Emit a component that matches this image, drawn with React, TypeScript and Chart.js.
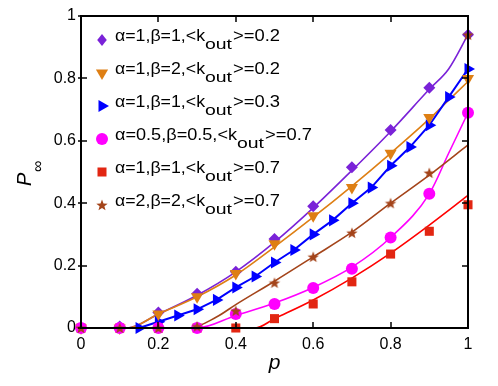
import React, { useEffect, useRef } from "react";
import { Chart, registerables } from "chart.js";

Chart.register(...registerables);

// ---------- data ----------
const pMarkers = [0, 0.1, 0.2, 0.3, 0.4, 0.5, 0.6, 0.7, 0.8, 0.9, 1.0];
const purpleMarkers = [0, 0.005, 0.05, 0.11, 0.18, 0.285, 0.39, 0.515, 0.635, 0.77, 0.94];
const orangeMarkers = [0, 0, 0.045, 0.1, 0.175, 0.27, 0.36, 0.45, 0.56, 0.675, 0.8];
const magentaMarkers = [0, 0, 0, 0, 0.045, 0.077, 0.128, 0.19, 0.29, 0.43, 0.69];
const redMarkers = [0, 0, 0, 0, 0, 0.03, 0.077, 0.148, 0.237, 0.31, 0.395];
const brownMarkers = [0, 0, 0, 0.005, 0.055, 0.145, 0.228, 0.305, 0.4, 0.497, 0.94];

const pBlue = [0.15, 0.2, 0.25, 0.3, 0.35, 0.4, 0.45, 0.5, 0.55, 0.6, 0.65, 0.7, 0.75, 0.8, 0.85, 0.9, 0.95, 1.0];
const blueValues = [0, 0.02, 0.04, 0.06, 0.09, 0.13, 0.165, 0.21, 0.25, 0.3, 0.345, 0.4, 0.45, 0.52, 0.58, 0.65, 0.74, 0.83];

const pPurpleLine = [0, 0.12, 0.2, 0.3, 0.4, 0.5, 0.6, 0.7, 0.8, 0.9, 0.95, 1.0];
const purpleLine = [0, 0, 0.045, 0.105, 0.18, 0.275, 0.385, 0.505, 0.63, 0.765, 0.83, 0.94];
const pOrangeLine = [0, 0.12, 0.2, 0.3, 0.4, 0.5, 0.6, 0.7, 0.8, 0.9, 0.95, 1.0];
const orangeLine = [0, 0, 0.045, 0.1, 0.17, 0.26, 0.355, 0.455, 0.56, 0.67, 0.73, 0.79];
const pMagentaLine = [0, 0.3, 0.4, 0.5, 0.6, 0.7, 0.8, 0.9, 0.95, 1.0];
const magentaLine = [0, 0, 0.04, 0.08, 0.13, 0.195, 0.29, 0.43, 0.56, 0.69];
const pRedLine = [0, 0.45, 0.5, 0.6, 0.7, 0.8, 0.9, 1.0];
const redLine = [0, 0, 0.03, 0.09, 0.16, 0.24, 0.33, 0.425];
const pBrownLine = [0, 0.28, 0.35, 0.4, 0.5, 0.6, 0.7, 0.8, 0.9, 1.0];
const brownLine = [0, 0, 0.035, 0.075, 0.15, 0.228, 0.307, 0.4, 0.49, 0.587];

const tickValues = [0, 0.2, 0.4, 0.6, 0.8, 1];
const xTickLabels = ["0", "0.2", "0.4", "0.6", "0.8", "1"];
const yTickLabels = ["0", "0.2", "0.4", "0.6", "0.8", "1"];

const legendPrefixes = [
  "α=1,β=1,<k",
  "α=1,β=2,<k",
  "α=1,β=1,<k",
  "α=0.5,β=0.5,<k",
  "α=1,β=1,<k",
  "α=2,β=2,<k",
];
const legendSuffixes = [">=0.2", ">=0.2", ">=0.3", ">=0.7", ">=0.7", ">=0.7"];

// ---------- styles ----------
const PURPLE = "#7a22d8";
const ORANGE = "#de7f14";
const BLUE = "#0000ff";
const MAGENTA = "#ff00ff";
const RED = "#ff0000";
const RED_MARK = "#e22612";
const BROWN = "#a4441a";
const FONT = "'Liberation Sans', Arial, Helvetica, sans-serif";

function makeStar(color: string, r: number) {
  const c = document.createElement("canvas");
  const s = Math.ceil(r * 2 + 2);
  c.width = s;
  c.height = s;
  const ctx = c.getContext("2d")!;
  ctx.fillStyle = color;
  ctx.beginPath();
  for (let i = 0; i < 10; i++) {
    const rad = i % 2 === 0 ? r : r * 0.42;
    const a = -Math.PI / 2 + (i * Math.PI) / 5;
    const x = s / 2 + rad * Math.cos(a);
    const y = s / 2 + 0.5 + rad * Math.sin(a);
    if (i === 0) ctx.moveTo(x, y);
    else ctx.lineTo(x, y);
  }
  ctx.closePath();
  ctx.fill();
  return c;
}

function pts(xs: number[], ys: number[]) {
  return xs.map((x, i) => ({ x, y: ys[i] }));
}

function drawMarker(ctx: CanvasRenderingContext2D, kind: string, x: number, y: number, color: string, star?: HTMLCanvasElement) {
  ctx.save();
  ctx.fillStyle = color;
  ctx.beginPath();
  if (kind === "diamond") {
    const r = 6;
    ctx.moveTo(x, y - r);
    ctx.lineTo(x + r * 0.8, y);
    ctx.lineTo(x, y + r);
    ctx.lineTo(x - r * 0.8, y);
    ctx.closePath();
    ctx.fill();
  } else if (kind === "tridown") {
    const r = 7;
    ctx.moveTo(x - r * 0.87, y - r * 0.5);
    ctx.lineTo(x + r * 0.87, y - r * 0.5);
    ctx.lineTo(x, y + r);
    ctx.closePath();
    ctx.fill();
  } else if (kind === "triright") {
    const r = 7;
    ctx.moveTo(x - r * 0.5, y - r * 0.87);
    ctx.lineTo(x + r, y);
    ctx.lineTo(x - r * 0.5, y + r * 0.87);
    ctx.closePath();
    ctx.fill();
  } else if (kind === "circle") {
    ctx.arc(x, y, 6, 0, Math.PI * 2);
    ctx.fill();
  } else if (kind === "square") {
    ctx.fillRect(x - 4.5, y - 4.5, 9, 9);
  } else if (kind === "star" && star) {
    ctx.drawImage(star, x - star.width / 2, y - star.height / 2);
  }
  ctx.restore();
}

function drawFitted(ctx: CanvasRenderingContext2D, text: string, x0: number, x1: number, y: number) {
  const w = ctx.measureText(text).width;
  const sx = (x1 - x0) / w;
  ctx.save();
  ctx.translate(x0, y);
  ctx.scale(sx, 1);
  ctx.fillText(text, 0, 0);
  ctx.restore();
}

export default function App() {
  const ref = useRef<HTMLCanvasElement | null>(null);

  useEffect(() => {
    document.body.style.margin = "0";
    const canvas = ref.current!;
    const star = makeStar(BROWN, 6);

    const legendKinds = ["diamond", "tridown", "triright", "circle", "square", "star"];
    const legendColors = [PURPLE, ORANGE, BLUE, MAGENTA, RED_MARK, BROWN];

    const framePlugin = {
      id: "frame",
      afterDraw(chart: any) {
        const { ctx, chartArea } = chart;
        const { left, right, top, bottom } = chartArea;
        const xs = chart.scales.x;
        const ys = chart.scales.y;
        ctx.save();
        ctx.strokeStyle = "#000";
        ctx.lineWidth = 2;
        ctx.strokeRect(left, top, right - left, bottom - top);
        ctx.lineWidth = 1.5;
        ctx.beginPath();
        tickValues.forEach((v) => {
          const px = Math.round(xs.getPixelForValue(v));
          ctx.moveTo(px, bottom);
          ctx.lineTo(px, bottom - 6);
          ctx.moveTo(px, top);
          ctx.lineTo(px, top + 6);
          const py = Math.round(ys.getPixelForValue(v));
          ctx.moveTo(left - 3, py);
          ctx.lineTo(left + 6, py);
          ctx.moveTo(right, py);
          ctx.lineTo(right - 6, py);
        });
        ctx.stroke();

        // axis titles
        ctx.fillStyle = "#000";
        ctx.font = `italic 21px ${FONT}`;
        ctx.textAlign = "center";
        ctx.textBaseline = "alphabetic";
        ctx.fillText("p", (left + right) / 2, 369);

        ctx.save();
        ctx.translate(31, 186);
        ctx.rotate(-Math.PI / 2);
        ctx.textAlign = "left";
        ctx.font = `italic 20px ${FONT}`;
        ctx.fillText("P", 0, 0);
        ctx.font = `16px ${FONT}`;
        ctx.fillText("∞", 14, 12);
        ctx.restore();

        // legend
        const baseY = [41, 74, 107, 140, 173, 206];
        const ends = [
          [205, 233, 280],
          [205, 233, 280],
          [205, 233, 280],
          [237, 265, 312],
          [205, 233, 280],
          [205, 233, 280],
        ];
        ctx.textAlign = "left";
        for (let i = 0; i < 6; i++) {
          const y = baseY[i];
          drawMarker(ctx, legendKinds[i], 102, y - 1, legendColors[i], star);
          ctx.font = `16.5px ${FONT}`;
          drawFitted(ctx, legendPrefixes[i], 115, ends[i][0], y);
          ctx.font = `14px ${FONT}`;
          drawFitted(ctx, "out", ends[i][0], ends[i][1] - 1, y + 8);
          ctx.font = `16.5px ${FONT}`;
          drawFitted(ctx, legendSuffixes[i], ends[i][1], ends[i][2], y);
        }
        ctx.restore();
      },
    };

    const lineDs = (data: any, color: string, order: number, width = 1.6) => ({
      type: "scatter",
      data,
      showLine: true,
      borderColor: color,
      backgroundColor: color,
      borderWidth: width,
      pointRadius: 0,
      cubicInterpolationMode: "monotone",
      clip: 8,
      order,
    });
    const markDs = (data: any, color: string, style: any, radius: number, rotation: number, order: number) => ({
      type: "scatter",
      data,
      showLine: false,
      pointStyle: style,
      pointRadius: radius,
      pointRotation: rotation,
      pointBackgroundColor: color,
      pointBorderColor: color,
      pointBorderWidth: 0,
      clip: 10,
      order,
    });

    const chart = new Chart(canvas, {
      type: "scatter",
      data: {
        datasets: [
          lineDs(pts(pPurpleLine, purpleLine), PURPLE, 20),
          lineDs(pts(pOrangeLine, orangeLine), ORANGE, 19),
          lineDs(pts(pMagentaLine, magentaLine), MAGENTA, 18),
          lineDs(pts(pBrownLine, brownLine), BROWN, 17),
          lineDs(pts(pRedLine, redLine), RED, 16),
          {
            type: "scatter",
            data: pts(pBlue, blueValues),
            showLine: true,
            borderColor: BLUE,
            borderWidth: 2,
            pointStyle: "triangle",
            pointRotation: 90,
            pointRadius: 7,
            pointBackgroundColor: BLUE,
            pointBorderColor: BLUE,
            pointBorderWidth: 0,
            clip: 10,
            order: 10,
          },
          markDs(pts(pMarkers, purpleMarkers), PURPLE, "rectRot", 6, 0, 9),
          markDs(pts(pMarkers, orangeMarkers), ORANGE, "triangle", 7, 180, 8),
          markDs(pts(pMarkers, redMarkers), RED_MARK, "rect", 6.4, 0, 6),
          markDs(pts(pMarkers, magentaMarkers), MAGENTA, "circle", 6, 0, 5),
          markDs(pts(pMarkers, brownMarkers), BROWN, star, 6, 0, 4),
        ] as any,
      },
      plugins: [framePlugin],
      options: {
        responsive: false,
        animation: false,
        events: [],
        layout: { padding: { top: 16, right: 30, left: 0, bottom: 0 } },
        plugins: { legend: { display: false }, tooltip: { enabled: false } },
        scales: {
          x: {
            type: "linear",
            min: 0,
            max: 1,
            afterBuildTicks: (s: any) => {
              s.ticks = tickValues.map((v) => ({ value: v }));
            },
            afterFit: (s: any) => {
              s.height = 58;
            },
            grid: { display: false, drawTicks: false },
            border: { display: false },
            ticks: {
              color: "#000",
              font: { family: FONT, size: 16 },
              padding: 7,
              maxRotation: 0,
              callback: (_v: any, i: number) => xTickLabels[i],
            },
          },
          y: {
            type: "linear",
            min: 0,
            max: 1,
            afterBuildTicks: (s: any) => {
              s.ticks = tickValues.map((v) => ({ value: v }));
            },
            afterFit: (s: any) => {
              s.width = 81;
            },
            grid: { display: false, drawTicks: false },
            border: { display: false },
            ticks: {
              color: "#000",
              font: { family: FONT, size: 16 },
              padding: 5,
              callback: (_v: any, i: number) => yTickLabels[i],
            },
          },
        },
      } as any,
    });
    return () => chart.destroy();
  }, []);

  return (
    <div style={{ width: 498, height: 386, background: "#fff" }}>
      <canvas ref={ref} width={498} height={386} style={{ display: "block" }} />
    </div>
  );
}
